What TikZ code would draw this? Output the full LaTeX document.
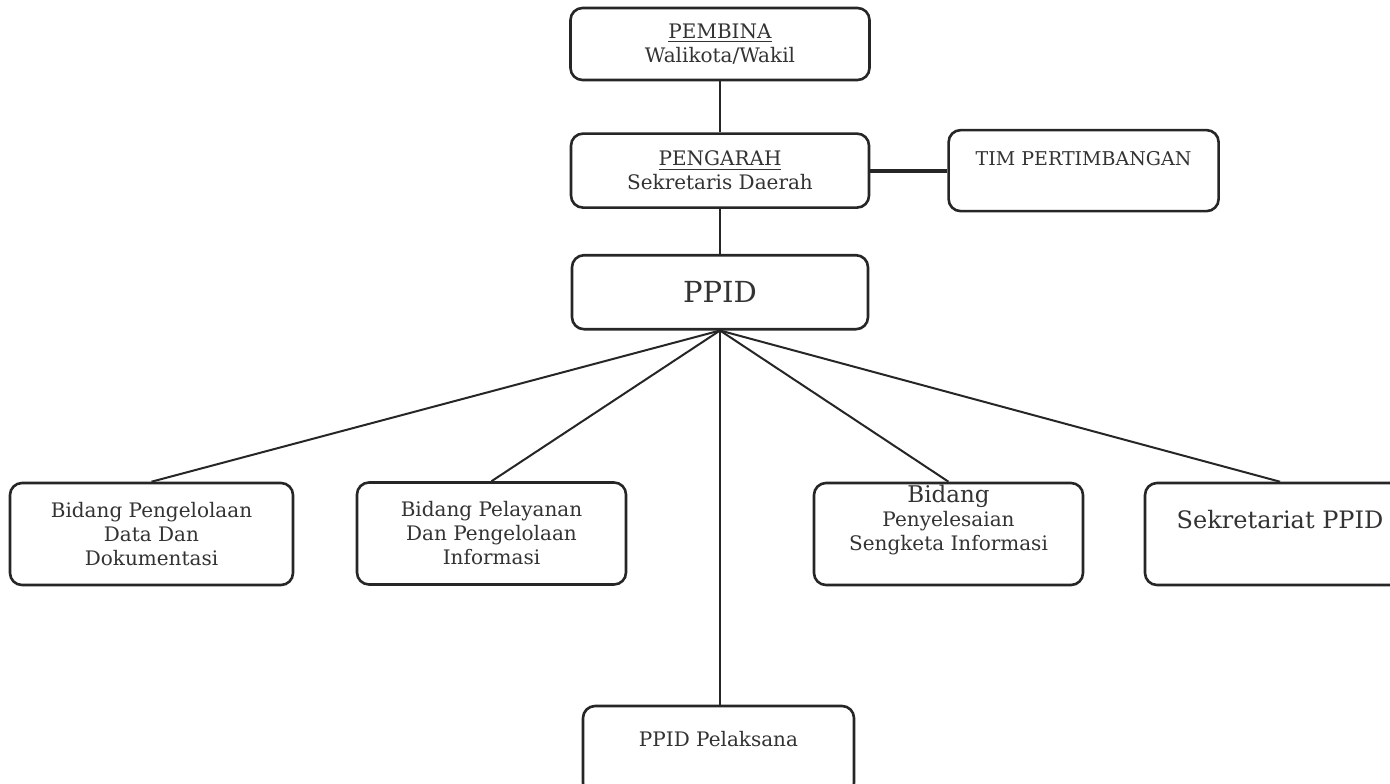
\documentclass[tikz,border=0pt]{standalone}
\usepackage{fontspec}
\setmainfont{DejaVu Serif}
\usetikzlibrary{positioning}
\tikzset{%
  % Specifications for style of boxes:
          box/.style = {rectangle, rounded corners=6pt, draw=black!85,
                        line width=1.3pt, fill=white, text=black!80,
                        inner sep=0pt, align=center,
                        font=\fontsize{10}{12}\selectfont},
         unit/.style = {box, minimum height=51pt},
         link/.style = {draw=black!85, line width=1pt}
}
\begin{document}
\begin{tikzpicture}[x=0.5pt, y=-0.5pt]
                        \useasboundingbox (0,0) rectangle (1390,783);
                        \node[box, minimum width=149.5pt, minimum height=36pt] (pembina) at (720,44) {\underline{PEMBINA}\\Walikota/Wakil};
                        \node[box, minimum width=149pt, minimum height=37pt, below=25.5pt of pembina] (pengarah) {\underline{PENGARAH}\\Sekretaris Daerah};
                        \node[box, minimum width=148pt, minimum height=37pt, below=22.5pt of pengarah, font=\fontsize{14.5}{17}\selectfont] (ppid) {PPID};
                        \node[box, minimum width=135pt, minimum height=40.5pt, right=38.5pt of pengarah, font=\fontsize{9.5}{12}\selectfont] (tim) {TIM PERTIMBANGAN\\~};
                        \node[unit, minimum width=141.5pt] (dokumentasi) at (151.5,534) {Bidang Pengelolaan\\Data Dan\\Dokumentasi};
                        \node[unit, minimum width=134.5pt] (pelayanan) at (491.5,533.5) {Bidang Pelayanan\\Dan Pengelolaan\\Informasi};
                        \node[unit, minimum width=134.5pt] (sengketa) at (948.5,534) {{\fontsize{11.5}{14}\selectfont Bidang}\\Penyelesaian\\Sengketa Informasi\\[4pt]~};
                        \node[unit, minimum width=135pt, font=\fontsize{12}{15}\selectfont] (sekretariat) at (1280,534) {Sekretariat PPID\\~};
                        \node[box, minimum width=135.5pt, minimum height=44.5pt] (pelaksana) at (718.5,750.5) {PPID Pelaksana\\~};
                        \draw[link] (pembina)--(pengarah);
                        \draw[link] (pengarah)--(ppid);
                        \draw[link, line width=2pt] (pengarah.east)--(pengarah.east -| tim.west);
                        \draw[link] (ppid.south)--(dokumentasi.north);
                        \draw[link] (ppid.south)--(pelayanan.north);
                        \draw[link] (ppid.south)--(pelaksana.north -| ppid.south);
                        \draw[link] (ppid.south)--(sengketa.north);
                        \draw[link] (ppid.south)--(sekretariat.north);
                    \end{tikzpicture}
\end{document}
